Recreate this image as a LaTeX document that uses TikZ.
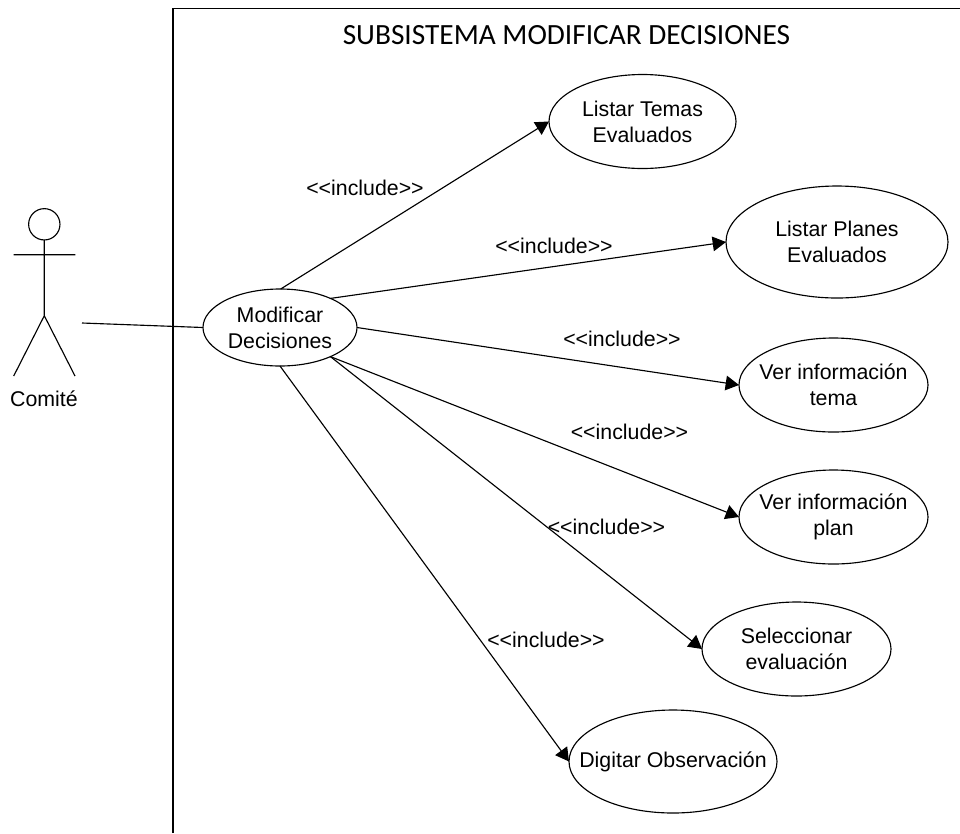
\documentclass[tikz,border=0pt]{standalone}
\usepackage{fontspec}
\setmainfont{Liberation Sans}
\newfontfamily\titlefont{Carlito}
\usetikzlibrary{shapes.geometric,arrows.meta}
\tikzset{
  uc/.style={draw=black,line width=0.85pt,ellipse,inner xsep=-30pt,inner ysep=-10pt,outer sep=0pt,align=center,font=\fontsize{16}{19.5}\selectfont},
  lbl/.style={font=\fontsize{16}{19}\selectfont,inner sep=0pt},
  con/.style={draw=black,line width=0.85pt},
  inc/.style={con,-{Triangle[length=10pt,width=11pt]}}
}
\begin{document}
\begin{tikzpicture}[x=0.75pt,y=-0.75pt]
\useasboundingbox (0,0) rectangle (960,833);
\coordinate (frameB) at (173,833);
\coordinate (frameC) at (173,8.5);
\coordinate (frameR) at (960,8.5);
\draw[draw=black,line width=1.3pt] (frameB) -- (frameC) -- (frameR);
\node[font=\titlefont\fontsize{22}{26}\selectfont,inner sep=0pt] (title) at (566.5,35) {SUBSISTEMA MODIFICAR DECISIONES};
% actor
\node[draw=black,line width=0.85pt,circle,minimum size=23.5pt,inner sep=0pt,outer sep=0pt] (head) at (44.3,224.3) {};
\coordinate (hip) at (44.3,315.7);
\coordinate (armL) at (13.5,254.7);
\coordinate (armR) at (75.3,254.7);
\coordinate (legL) at (13.7,376);
\coordinate (legR) at (75,376);
\draw[con] (head.south) -- (hip) -- (legL) (hip) -- (legR) (armL) -- (armR);
\node[lbl] (comite) at (44,399) {Comité};
\coordinate (actorEnd) at (82,323);
% use cases
\node[uc,minimum width=115.5pt,minimum height=57.75pt] (mod) at (280,327.5) {Modificar\\Decisiones};
\node[uc,minimum width=140.25pt,minimum height=70.5pt] (a) at (642.5,121.5) {Listar Temas\\Evaluados};
\node[uc,minimum width=166.5pt,minimum height=84pt] (b) at (837,242) {Listar Planes\\Evaluados};
\node[uc,minimum width=141.75pt,minimum height=70.5pt] (c) at (833.5,385) {Ver información\\tema};
\node[uc,minimum width=141.75pt,minimum height=70.5pt] (d) at (833.5,517) {Ver información\\plan};
\node[uc,minimum width=141.75pt,minimum height=70.5pt] (e) at (796.5,649) {Seleccionar\\evaluación};
\node[uc,minimum width=156pt,minimum height=77.25pt] (f) at (673,761.5) {Digitar Observación};
\draw[con] (actorEnd) -- (mod.180);
\draw[inc] (mod.89) -- (a.180);
\draw[inc] (mod.30) -- (b.180);
\draw[inc] (mod.0) -- (c.180);
\draw[inc] (mod.-30) -- (d.180);
\draw[inc] (mod.-30) -- (e.180);
\draw[inc] (mod.-90) -- (f.180);
\node[lbl] (l1) at (365,188) {<{}<include>{}>};
\node[lbl] (l2) at (554,246) {<{}<include>{}>};
\node[lbl] (l3) at (622,339) {<{}<include>{}>};
\node[lbl] (l4) at (629.5,432) {<{}<include>{}>};
\node[lbl] (l5) at (606.5,527) {<{}<include>{}>};
\node[lbl] (l6) at (546,640) {<{}<include>{}>};
\end{tikzpicture}
\end{document}
